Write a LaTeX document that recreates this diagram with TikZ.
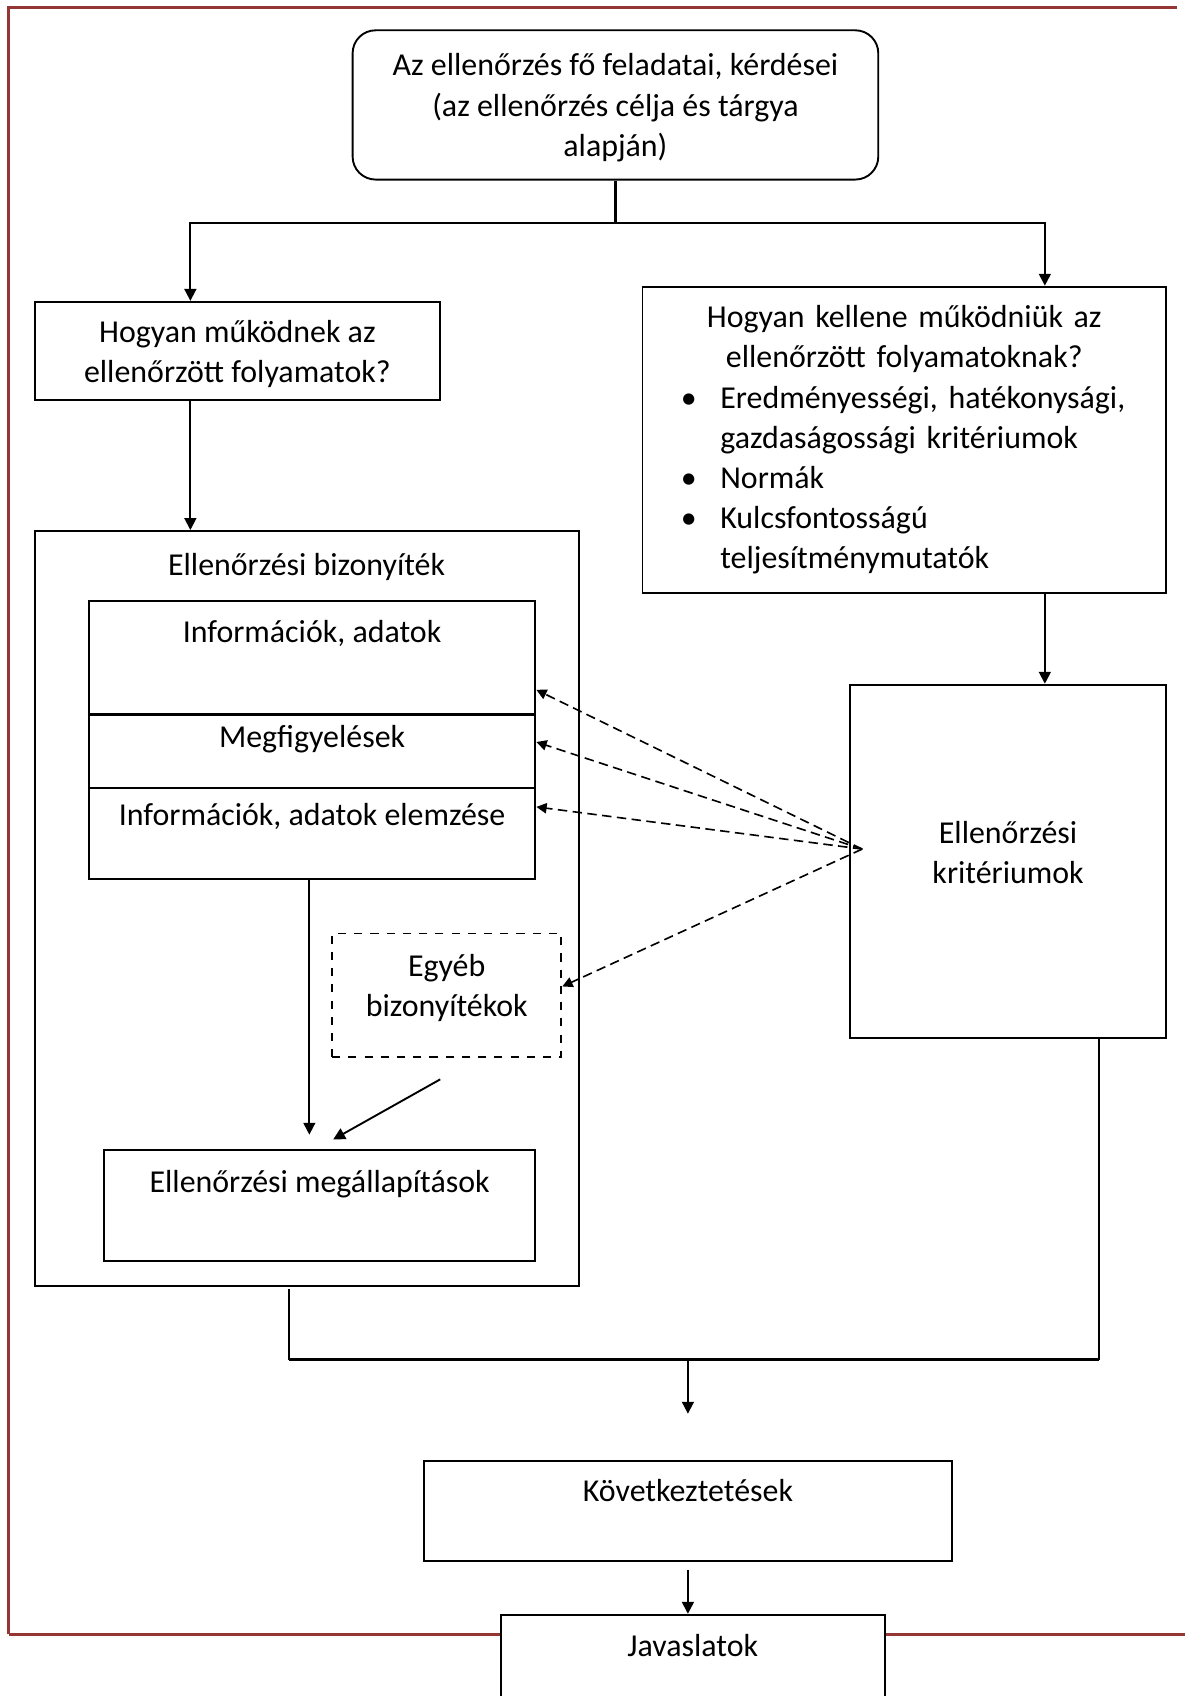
\documentclass[tikz,border=0pt]{standalone}
\usepackage{fontspec}
\setmainfont{Carlito}
\usetikzlibrary{arrows.meta}
\definecolor{framered}{HTML}{943634}

\newcommand{\critem}[1]{\par\noindent\hspace*{14.2pt}\makebox[14.6pt][l]{\textbullet}#1\par}
\newcommand{\critline}[1]{\par\noindent\hspace*{28.8pt}#1\par}

\begin{document}
\begin{tikzpicture}[
   x = 0.4pt, y = -0.4pt,
   font = \fontsize{11.8}{14.8}\selectfont,
   panel/.style = {draw, line width=0.7pt, inner sep=0pt, align=center},
   flow/.style = {-{Triangle[length=4.4pt, width=4.4pt]}, line width=0.7pt},
   bar/.style = {line width=1.2pt},
   hint/.style = {-{Triangle[length=3.8pt, width=3.8pt]}, line width=0.6pt, dash pattern=on 3.5pt off 2pt},
   frame/.style = {draw=framered, line width=1.2pt, line join=miter}]
   \useasboundingbox (0,0) rectangle (1096,1568);
   \clip (0,0) rectangle (1096,1568);

   \draw[frame] (8,1511) -- (8,7) -- (1088,7);
   \draw[frame] (8,1511) -- (1096,1511);

   \node[panel, rounded corners=8.5pt, minimum width=194.4pt, minimum height=55.2pt, text depth=0pt] (top) at (569,97)
      {Az ellenőrzés fő feladatai, kérdései\\(az ellenőrzés célja és tárgya\\alapján)};
   \node[panel, minimum width=150pt, minimum height=36.4pt, text depth=0pt] (how) at (219.5,324.5)
      {Hogyan működnek az\\ellenőrzött folyamatok?};
   \node[draw, line width=0.7pt, inner sep=0pt, text width=193.6pt, minimum height=113.2pt] (should) at (836,406.5)
      {\centerline{Hogyan kellene működniük az}
       \centerline{ellenőrzött folyamatoknak?}
       \critem{Eredményességi, hatékonysági,}
       \critline{gazdaságossági kritériumok}
       \critem{Normák}
       \critem{Kulcsfontosságú}
       \critline{teljesítménymutatók}};

   \node[panel, minimum width=201.2pt, text height=16.4pt, text depth=262.8pt, anchor=north] (evid) at (283.5,490)
      {Ellenőrzési bizonyíték};
   \node[panel, minimum width=165.2pt, text height=15.2pt, text depth=26.4pt, anchor=north] (info) at (288.5,555)
      {Információk, adatok};
   \node[panel, minimum width=165.2pt, text height=12.4pt, text depth=15.2pt, anchor=north] (obs) at (288.5,659)
      {Megfigyelések};
   \node[panel, minimum width=165.2pt, text height=13.6pt, text depth=20pt, anchor=north] (anal) at (288.5,728)
      {Információk, adatok elemzése};
   \draw[line width=1.1pt] (info.south west) -- (info.south east);
   \node[panel, dashed, minimum width=84.8pt, minimum height=45.6pt, text depth=7.3pt] (other) at (413,920)
      {Egyéb\\bizonyítékok};
   \node[panel, minimum width=159.6pt, text height=16pt, text depth=25.2pt, anchor=north] (find) at (295.5,1062)
      {Ellenőrzési megállapítások};

   \node[panel, minimum width=116.8pt, minimum height=130.8pt, text depth=6.4pt] (crit) at (932,796.5)
      {Ellenőrzési\\kritériumok};

   \node[panel, minimum width=195.2pt, text height=14.8pt, text depth=22pt, anchor=north] (concl) at (636,1350)
      {Következtetések};
   \node[panel, fill=white, minimum width=142pt, text height=15.6pt, text depth=40pt, anchor=north] (rec) at (640.5,1492)
      {Javaslatok};

   \coordinate (lx) at (176,0);
   \coordinate (rx) at (966,0);
   \coordinate (vx) at (286,0);
   \draw[bar] (top.south) -- ++(0,39) coordinate (split);
   \draw[bar, flow] (split) -| (how.north -| lx);
   \draw[bar, flow] (split) -| (should.north -| rx);
   \draw[flow] (how.south -| lx) -- (evid.north -| lx);
   \draw[flow] (should.south -| rx) -- (crit.north -| rx);

   \draw[flow, shorten >=5.2pt] (anal.south -| vx) -- (find.north -| vx);
   \draw[flow] ([xshift=-2.4pt, yshift=-8pt]other.south) -- ([xshift=5pt, yshift=3.4pt]find.north);

   \coordinate (src) at ([xshift=4.8pt, yshift=4.6pt]crit.west);
   \draw[hint] (src) -- ([yshift=9.2pt]info.south east);
   \draw[hint] (src) -- ([yshift=-10.8pt]obs.north east);
   \draw[hint] (src) -- ([yshift=-7.2pt]anal.north east);
   \draw[hint] (src) -- ([yshift=3.2pt]other.east);

   \coordinate (bl) at (267,1257);
   \coordinate (br) at (1016,1257);
   \coordinate (mid) at (636,1257);
   \draw[line width=0.7pt] ([yshift=-0.8pt]evid.south -| bl) -- (bl);
   \draw[line width=0.7pt] (crit.south -| br) -- (br);
   \draw[bar] (bl) -- (br);
   \draw[flow] (mid) -- ([yshift=17.2pt]concl.north);
   \draw[flow, shorten <=3.2pt] (concl.south) -- (concl.south |- rec.north);
\end{tikzpicture}
\end{document}
